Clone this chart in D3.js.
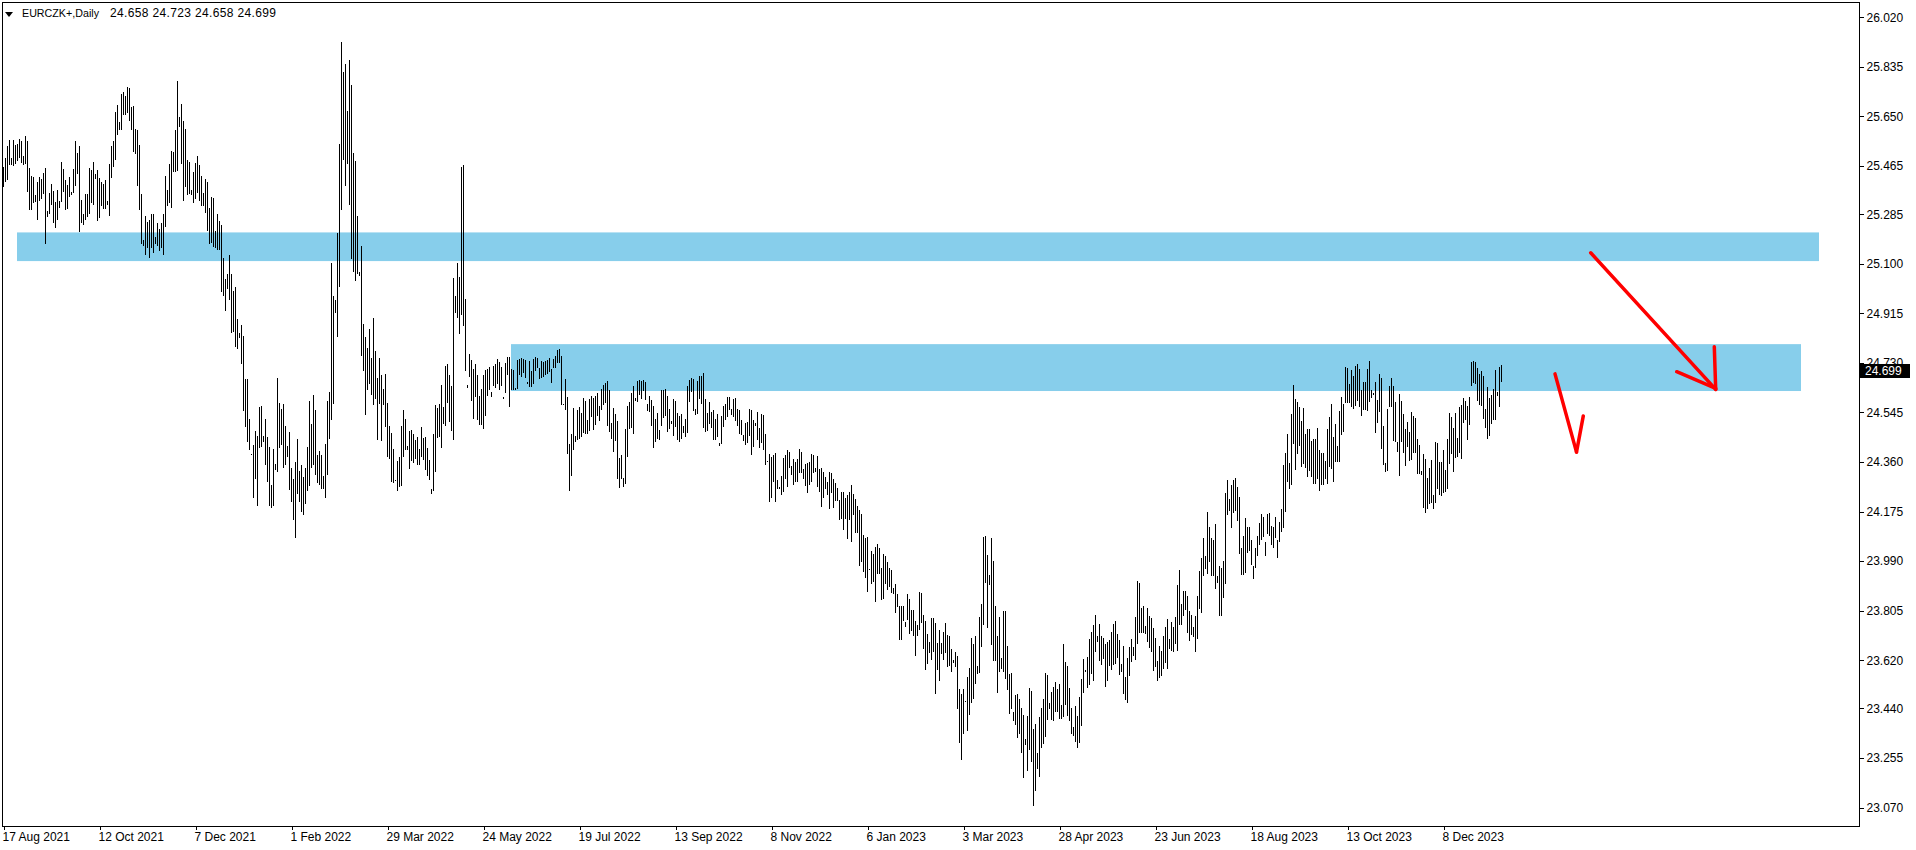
<!DOCTYPE html>
<html><head><meta charset="utf-8">
<script src="https://cdn.jsdelivr.net/npm/d3@7"></script>
<style>html,body{margin:0;padding:0;background:#fff;overflow:hidden}</style>
</head><body><svg id="c" width="1916" height="850"></svg>
<script>
const symbolName = "EURCZK+,Daily";
const lastOHLC = ["24.658", "24.723", "24.658", "24.699"];
const lastClose = 24.699;

const highs = [
25.463,25.496,25.540,25.562,25.496,25.562,25.544,25.547,25.566,25.559,
25.503,25.577,25.559,25.458,25.428,25.424,25.357,25.406,25.424,25.417,
25.439,25.458,25.297,25.365,25.398,25.372,25.331,25.376,25.335,25.480,
25.454,25.413,25.394,25.424,25.368,25.454,25.559,25.514,25.540,25.338,
25.286,25.361,25.361,25.458,25.450,25.480,25.435,25.450,25.421,25.406,
25.398,25.413,25.335,25.473,25.540,25.559,25.667,25.693,25.630,25.734,
25.742,25.727,25.760,25.756,25.686,25.689,25.603,25.600,25.544,25.361,
25.189,25.279,25.256,25.264,25.286,25.286,25.200,25.253,25.230,25.253,
25.286,25.428,25.376,25.473,25.521,25.518,25.600,25.783,25.648,25.697,
25.633,25.603,25.488,25.480,25.376,25.443,25.477,25.503,25.469,25.428,
25.365,25.417,25.406,25.309,25.350,25.346,25.223,25.286,25.260,25.245,
25.123,25.045,25.063,25.134,25.063,25.000,25.015,24.895,24.843,24.873,
24.832,24.671,24.668,24.522,24.391,24.425,24.476,24.457,24.566,24.569,
24.457,24.521,24.454,24.416,24.275,24.409,24.353,24.674,24.581,24.558,
24.577,24.495,24.420,24.472,24.338,24.297,24.360,24.446,24.327,24.349,
24.304,24.338,24.416,24.588,24.502,24.610,24.554,24.387,24.401,24.387,
24.308,24.428,24.588,24.622,25.103,24.981,24.966,25.213,25.547,25.928,
25.817,25.847,25.672,25.861,25.768,25.514,25.485,25.279,25.071,25.168,
24.877,24.825,24.787,24.858,24.750,24.899,24.776,24.675,24.750,24.686,
24.634,24.690,24.582,24.496,24.470,24.410,24.294,24.365,24.380,24.496,
24.556,24.522,24.421,24.474,24.481,24.466,24.444,24.455,24.410,24.489,
24.451,24.455,24.414,24.369,24.261,24.466,24.574,24.563,24.578,24.649,
24.567,24.720,24.724,24.686,24.642,25.048,24.981,25.104,25.052,25.463,
25.467,24.970,24.649,24.765,24.742,24.709,24.727,24.683,24.608,24.634,
24.686,24.705,24.709,24.713,24.623,24.720,24.727,24.746,24.735,24.713,
24.604,24.731,24.751,24.751,24.707,24.704,24.638,24.741,24.745,24.748,
24.745,24.741,24.660,24.737,24.701,24.745,24.752,24.748,24.712,24.737,
24.734,24.737,24.741,24.748,24.707,24.745,24.756,24.778,24.782,24.756,
24.577,24.670,24.604,24.427,24.465,24.562,24.457,24.554,24.566,24.543,
24.599,24.588,24.517,24.595,24.607,24.599,24.607,24.618,24.569,24.633,
24.648,24.655,24.663,24.629,24.506,24.562,24.539,24.513,24.375,24.386,
24.301,24.483,24.569,24.584,24.618,24.644,24.599,24.663,24.666,24.663,
24.666,24.659,24.577,24.607,24.592,24.569,24.521,24.543,24.480,24.629,
24.629,24.633,24.607,24.558,24.513,24.595,24.588,24.543,24.532,24.539,
24.495,24.521,24.644,24.666,24.674,24.670,24.558,24.663,24.681,24.681,
24.692,24.595,24.543,24.584,24.547,24.554,24.521,24.539,24.431,24.532,
24.569,24.577,24.603,24.603,24.558,24.595,24.599,24.558,24.554,24.517,
24.461,24.506,24.510,24.558,24.554,24.517,24.505,24.545,24.487,24.540,
24.535,24.465,24.364,24.390,24.380,24.388,24.394,24.291,24.268,24.309,
24.375,24.388,24.405,24.399,24.345,24.373,24.361,24.371,24.409,24.399,
24.335,24.354,24.358,24.360,24.390,24.388,24.337,24.383,24.334,24.339,
24.324,24.305,24.287,24.324,24.320,24.298,24.283,24.264,24.218,24.249,
24.249,24.227,24.238,24.249,24.276,24.242,24.223,24.196,24.181,24.167,
24.089,24.075,24.081,23.961,24.026,24.018,24.044,24.054,24.040,23.966,
24.016,24.009,23.986,23.966,23.957,23.890,23.906,23.869,23.824,23.824,
23.824,23.763,23.869,23.849,23.808,23.809,23.767,23.753,23.875,23.871,
23.789,23.767,23.719,23.688,23.778,23.778,23.758,23.685,23.733,23.685,
23.726,23.758,23.714,23.712,23.663,23.622,23.652,23.636,23.514,23.495,
23.514,23.468,23.559,23.592,23.704,23.682,23.712,23.600,23.783,23.831,
24.081,24.085,24.014,23.938,24.078,23.991,23.823,23.711,23.782,23.630,
23.802,23.802,23.675,23.570,23.574,23.428,23.492,23.495,23.477,23.443,
23.417,23.327,23.413,23.518,23.507,23.365,23.383,23.275,23.410,23.443,
23.477,23.574,23.566,23.462,23.503,23.522,23.537,23.514,23.533,23.454,
23.682,23.615,23.600,23.518,23.443,23.369,23.451,23.413,23.481,23.551,
23.626,23.585,23.634,23.701,23.727,23.753,23.790,23.712,23.757,23.712,
23.704,23.682,23.690,23.697,23.727,23.757,23.768,23.719,23.697,23.607,
23.675,23.559,23.630,23.671,23.701,23.671,23.783,23.914,23.910,23.816,
23.824,23.749,23.816,23.787,23.779,23.742,23.704,23.619,23.675,23.656,
23.712,23.746,23.775,23.701,23.764,23.746,23.783,23.902,23.958,23.831,
23.880,23.880,23.858,23.805,23.790,23.746,23.787,23.858,23.955,24.003,
24.078,24.011,24.175,24.119,24.078,24.070,24.130,23.936,23.970,23.966,
23.992,24.246,24.291,24.223,24.276,24.291,24.302,24.268,24.231,24.040,
24.082,24.152,24.119,24.119,24.070,23.973,24.040,24.083,24.132,24.165,
24.154,24.060,24.165,24.169,24.121,24.117,24.154,24.070,24.136,24.184,
24.348,24.393,24.464,24.356,24.539,24.647,24.595,24.584,24.565,24.513,
24.561,24.464,24.483,24.483,24.438,24.445,24.445,24.487,24.404,24.393,
24.393,24.363,24.483,24.528,24.576,24.453,24.501,24.419,24.550,24.602,
24.576,24.714,24.710,24.651,24.703,24.681,24.718,24.725,24.707,24.628,
24.658,24.658,24.707,24.737,24.628,24.617,24.658,24.591,24.688,24.673,
24.494,24.356,24.557,24.643,24.673,24.643,24.584,24.434,24.613,24.587,
24.539,24.483,24.509,24.472,24.546,24.531,24.524,24.445,24.423,24.326,
24.389,24.371,24.300,24.337,24.367,24.236,24.434,24.431,24.360,24.360,
24.404,24.330,24.445,24.542,24.528,24.487,24.542,24.449,24.565,24.572,
24.598,24.587,24.569,24.602,24.733,24.737,24.733,24.710,24.688,24.699,
24.681,24.557,24.640,24.598,24.610,24.632,24.703,24.621,24.714,24.723
];

const lows = [
25.386,25.407,25.413,25.469,25.469,25.465,25.473,25.485,25.496,25.478,
25.469,25.473,25.368,25.299,25.301,25.328,25.331,25.264,25.336,25.343,
25.361,25.175,25.276,25.286,25.320,25.254,25.235,25.264,25.310,25.331,
25.368,25.302,25.306,25.351,25.358,25.365,25.391,25.435,25.219,25.254,
25.246,25.265,25.276,25.284,25.325,25.320,25.417,25.258,25.272,25.316,
25.306,25.306,25.321,25.280,25.422,25.463,25.488,25.579,25.601,25.601,
25.657,25.657,25.664,25.633,25.601,25.519,25.511,25.392,25.302,25.172,
25.168,25.134,25.157,25.123,25.160,25.142,25.172,25.168,25.149,25.160,
25.131,25.239,25.317,25.328,25.310,25.444,25.444,25.448,25.612,25.474,
25.336,25.388,25.355,25.362,25.358,25.326,25.343,25.366,25.336,25.314,
25.317,25.291,25.224,25.175,25.179,25.164,25.157,25.153,25.153,24.996,
24.978,24.925,25.004,24.966,24.843,24.847,24.791,24.780,24.824,24.724,
24.552,24.492,24.436,24.406,24.388,24.227,24.298,24.197,24.414,24.416,
24.435,24.347,24.287,24.194,24.190,24.194,24.332,24.321,24.414,24.424,
24.339,24.350,24.377,24.257,24.212,24.145,24.078,24.242,24.212,24.175,
24.164,24.205,24.250,24.272,24.339,24.347,24.313,24.280,24.276,24.261,
24.261,24.227,24.313,24.447,24.515,24.578,24.918,24.828,25.015,25.302,
25.489,25.392,25.474,25.321,25.119,25.071,25.034,25.063,25.056,24.757,
24.701,24.537,24.630,24.653,24.612,24.571,24.597,24.444,24.578,24.440,
24.571,24.489,24.377,24.373,24.287,24.283,24.291,24.253,24.268,24.272,
24.377,24.403,24.403,24.335,24.362,24.358,24.373,24.347,24.347,24.380,
24.369,24.332,24.309,24.294,24.242,24.253,24.324,24.451,24.455,24.414,
24.503,24.496,24.582,24.511,24.474,24.444,24.918,24.899,24.839,24.910,
24.869,24.698,24.638,24.679,24.586,24.522,24.604,24.515,24.500,24.500,
24.485,24.530,24.608,24.627,24.601,24.642,24.638,24.653,24.627,24.645,
24.597,24.619,24.683,24.567,24.627,24.627,24.630,24.634,24.686,24.679,
24.694,24.675,24.653,24.641,24.641,24.653,24.701,24.712,24.671,24.675,
24.679,24.683,24.690,24.697,24.656,24.712,24.712,24.731,24.730,24.571,
24.571,24.556,24.390,24.250,24.306,24.405,24.435,24.442,24.446,24.454,
24.469,24.466,24.466,24.476,24.528,24.480,24.498,24.532,24.513,24.554,
24.573,24.580,24.495,24.472,24.446,24.398,24.439,24.297,24.264,24.298,
24.268,24.279,24.379,24.483,24.487,24.465,24.588,24.584,24.610,24.595,
24.625,24.592,24.551,24.547,24.495,24.413,24.436,24.446,24.442,24.495,
24.525,24.532,24.472,24.483,24.502,24.457,24.491,24.442,24.435,24.446,
24.469,24.454,24.469,24.584,24.622,24.551,24.536,24.539,24.595,24.577,
24.487,24.472,24.476,24.502,24.487,24.442,24.442,24.454,24.420,24.427,
24.491,24.517,24.528,24.554,24.536,24.528,24.513,24.495,24.465,24.461,
24.439,24.424,24.431,24.457,24.386,24.416,24.496,24.444,24.414,24.432,
24.406,24.350,24.361,24.212,24.227,24.287,24.212,24.261,24.261,24.238,
24.249,24.298,24.268,24.337,24.313,24.276,24.287,24.287,24.318,24.318,
24.298,24.272,24.246,24.276,24.287,24.318,24.324,24.268,24.249,24.192,
24.227,24.261,24.235,24.186,24.246,24.190,24.213,24.213,24.145,24.146,
24.105,24.146,24.074,24.144,24.063,24.164,24.095,24.095,23.972,23.987,
23.951,23.928,23.876,23.958,23.906,23.911,23.839,23.943,23.943,23.845,
23.849,23.906,23.884,23.892,23.870,23.869,23.795,23.819,23.697,23.697,
23.767,23.746,23.772,23.719,23.729,23.712,23.637,23.709,23.734,23.758,
23.663,23.585,23.607,23.646,23.621,23.652,23.495,23.585,23.544,23.642,
23.621,23.646,23.596,23.599,23.578,23.611,23.594,23.438,23.311,23.249,
23.344,23.466,23.357,23.417,23.461,23.477,23.530,23.570,23.571,23.671,
23.753,23.909,23.742,23.900,23.678,23.619,23.619,23.499,23.578,23.589,
23.578,23.551,23.510,23.421,23.439,23.395,23.380,23.331,23.346,23.275,
23.182,23.305,23.208,23.286,23.242,23.077,23.133,23.215,23.186,23.294,
23.309,23.335,23.398,23.439,23.398,23.395,23.428,23.428,23.402,23.402,
23.410,23.454,23.413,23.395,23.346,23.339,23.316,23.294,23.313,23.376,
23.499,23.578,23.518,23.529,23.570,23.544,23.649,23.690,23.619,23.604,
23.626,23.522,23.544,23.600,23.585,23.604,23.607,23.630,23.566,23.578,
23.495,23.473,23.462,23.563,23.615,23.637,23.622,23.682,23.723,23.723,
23.723,23.719,23.690,23.667,23.649,23.581,23.596,23.544,23.555,23.563,
23.589,23.611,23.589,23.663,23.656,23.652,23.682,23.656,23.753,23.753,
23.787,23.809,23.723,23.693,23.716,23.708,23.652,23.701,23.813,23.798,
23.936,23.962,23.943,23.988,23.936,23.936,23.887,23.910,23.787,23.787,
23.854,23.906,24.164,24.179,24.115,24.171,24.179,24.141,24.018,23.940,
23.940,23.947,24.022,24.029,23.977,23.925,23.965,24.010,24.050,24.070,
24.080,24.010,24.090,24.085,24.050,24.040,24.075,24.000,24.060,24.100,
24.113,24.173,24.285,24.259,24.274,24.427,24.330,24.389,24.419,24.341,
24.352,24.337,24.304,24.326,24.304,24.277,24.277,24.296,24.253,24.275,
24.275,24.296,24.277,24.341,24.333,24.285,24.360,24.360,24.361,24.460,
24.472,24.580,24.580,24.580,24.565,24.557,24.569,24.587,24.565,24.531,
24.554,24.554,24.550,24.584,24.598,24.611,24.468,24.505,24.546,24.408,
24.348,24.322,24.326,24.565,24.565,24.438,24.434,24.397,24.307,24.434,
24.393,24.345,24.416,24.363,24.367,24.393,24.393,24.315,24.315,24.311,
24.188,24.169,24.184,24.203,24.207,24.184,24.207,24.259,24.236,24.233,
24.244,24.248,24.259,24.352,24.389,24.322,24.375,24.378,24.393,24.371,
24.505,24.516,24.442,24.499,24.643,24.654,24.651,24.587,24.572,24.569,
24.520,24.487,24.445,24.457,24.501,24.516,24.516,24.606,24.565,24.658
];

const yTickValues = [26.020,25.835,25.650,25.465,25.285,25.100,24.915,24.730,24.545,24.360,24.175,23.990,23.805,23.620,23.440,23.255,23.070];
const xTickLabels = ["17 Aug 2021","12 Oct 2021","7 Dec 2021","1 Feb 2022","29 Mar 2022","24 May 2022","19 Jul 2022","13 Sep 2022","8 Nov 2022","6 Jan 2023","3 Mar 2023","28 Apr 2023","23 Jun 2023","18 Aug 2023","13 Oct 2023","8 Dec 2023"];
const xTickBars = [0,48,96,144,192,240,288,336,384,432,480,528,576,624,672,720];

// zones: bar-index span and price span
const zoneFrom = [6.75, 253.75];
const zoneTo = [907.75, 898.75];
const zoneTop = [25.217, 24.800];
const zoneBottom = [25.110, 24.625];

// red hand-drawn arrows: segments [bar1, price1, bar2, price2]
const arrowSegments = [
  [793.6, 25.141, 856.1, 24.631],
  [855.4, 24.790, 856.1, 24.631],
  [836.6, 24.697, 856.1, 24.635],
  [775.75, 24.689, 786.5, 24.397],
  [789.9, 24.532, 786.5, 24.397]
];

const W = 1916, H = 850;
const plotL = 2, plotT = 2, plotR = 1859, plotB = 826;
const FONT = "'Liberation Sans', Arial, sans-serif";

const svg = d3.select("#c");
svg.append("rect").attr("width", W).attr("height", H).attr("fill", "#fff");

const x = d3.scaleLinear().domain([0, 749]).range([3.5, 1501.5]);
const y = d3.scaleLinear().domain([23.070, 26.020]).range([807.6, 17.3]);

const clip = svg.append("clipPath").attr("id", "pc").append("rect")
  .attr("x", plotL).attr("y", plotT).attr("width", plotR - plotL).attr("height", plotB - plotT);
const plot = svg.append("g").attr("clip-path", "url(#pc)");

// zones
plot.selectAll("rect.zone").data(zoneFrom).join("rect").attr("class", "zone")
  .attr("x", (d, i) => x(d))
  .attr("width", (d, i) => x(zoneTo[i]) - x(d))
  .attr("y", (d, i) => y(zoneTop[i]))
  .attr("height", (d, i) => y(zoneBottom[i]) - y(zoneTop[i]))
  .attr("fill", "#87CEEB");

// bars
const n = Math.min(highs.length, lows.length);
const bars = d3.range(n).map(i => ({i, h: highs[i], l: lows[i]}));
plot.selectAll("rect.bar").data(bars).join("rect").attr("class", "bar")
  .attr("x", d => Math.round(x(d.i) - 0.5))
  .attr("width", 1)
  .attr("y", d => Math.round(y(d.h)))
  .attr("height", d => Math.max(1, Math.round(y(d.l)) - Math.round(y(d.h))))
  .attr("fill", "#000")
  .attr("shape-rendering", "crispEdges");

// arrows
plot.selectAll("line.arrow").data(arrowSegments).join("line").attr("class", "arrow")
  .attr("x1", d => x(d[0])).attr("y1", d => y(d[1]))
  .attr("x2", d => x(d[2])).attr("y2", d => y(d[3]))
  .attr("stroke", "#ff0000").attr("stroke-width", 3.5).attr("stroke-linecap", "round");

// frame
svg.append("rect").attr("x", plotL + 0.5).attr("y", plotT + 0.5)
  .attr("width", plotR - plotL).attr("height", plotB - plotT)
  .attr("fill", "none").attr("stroke", "#000").attr("stroke-width", 1)
  .attr("shape-rendering", "crispEdges");

// right axis
const ya = svg.append("g").attr("transform", `translate(${plotR + 0.5},0)`)
  .call(d3.axisRight(y).tickValues(yTickValues).tickFormat(d3.format(".3f")).tickSize(4).tickPadding(3));
ya.select(".domain").remove();
ya.selectAll("line").attr("stroke", "#000").attr("shape-rendering", "crispEdges");
ya.selectAll("text").attr("font-family", FONT).attr("font-size", 12).attr("fill", "#000");

// bottom axis
const xa = svg.append("g").attr("transform", `translate(0,${plotB + 0.5})`)
  .call(d3.axisBottom(x).tickValues(xTickBars).tickFormat((d, i) => xTickLabels[i]).tickSize(3).tickPadding(3));
xa.select(".domain").remove();
xa.selectAll("line").attr("stroke", "#000").attr("shape-rendering", "crispEdges");
xa.selectAll("text").attr("font-family", FONT).attr("font-size", 12).attr("fill", "#000")
  .attr("text-anchor", "start").attr("x", -1.5);

// current price box
const py = y(lastClose);
svg.append("rect").attr("x", plotR + 1).attr("y", Math.round(py) - 7).attr("width", 50).attr("height", 14).attr("fill", "#000");
svg.append("text").attr("x", plotR + 6).attr("y", py).attr("dy", "0.35em")
  .attr("font-family", FONT).attr("font-size", 12).attr("fill", "#fff").text(lastClose.toFixed(3));

// title
svg.append("path").attr("d", "M5,12 L13,12 L9,17 Z").attr("fill", "#000");
svg.append("text").attr("x", 22).attr("y", 17).attr("font-family", FONT).attr("font-size", 11.5).attr("fill", "#000")
  .attr("textLength", 77).attr("lengthAdjust", "spacingAndGlyphs")
  .text(symbolName);
svg.append("text").attr("x", 110).attr("y", 17).attr("font-family", FONT).attr("font-size", 12).attr("fill", "#000")
  .attr("textLength", 166).attr("lengthAdjust", "spacing")
  .text(lastOHLC.join(" "));
</script>
</body></html>
